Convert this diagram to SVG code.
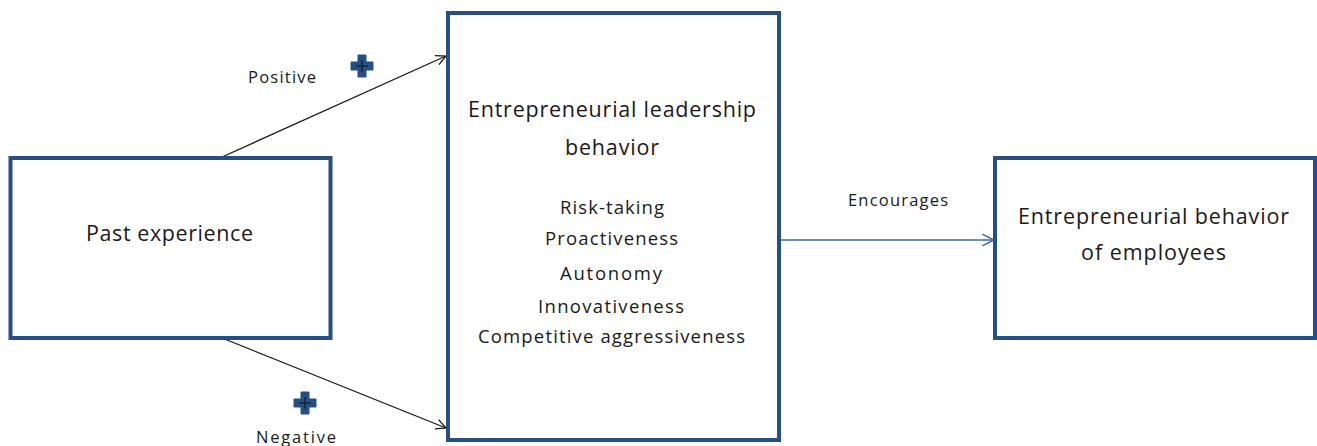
<svg xmlns="http://www.w3.org/2000/svg" width="1317" height="446" viewBox="0 0 1317 446">
  <style>
    .box { fill: #ffffff; stroke: #254f85; stroke-width: 4; }
    .t { font-family: "Open Sans", "Liberation Sans", Arial, sans-serif; fill: #1a1a1a; text-anchor: middle; }
    .big { font-size: 21.5px; }
    .mid { font-size: 18.5px; }
    .small { font-size: 16.5px; }
    .link { stroke: #1a1a1a; stroke-width: 1.3; fill: none; }
    .link-blue { stroke: #3f6aa0; stroke-width: 1.3; fill: none; }
  </style>
  <defs>
    <marker id="open-dark" viewBox="0 0 12 12" refX="11" refY="6" markerWidth="12" markerHeight="12" markerUnits="userSpaceOnUse" orient="auto">
      <path d="M1,1 L11,6 L1,11" fill="none" stroke="#1a1a1a" stroke-width="1.3"/>
    </marker>
    <marker id="open-blue" viewBox="0 0 12 12" refX="11" refY="6" markerWidth="14" markerHeight="14" markerUnits="userSpaceOnUse" orient="auto">
      <path d="M1,1 L11,6 L1,11" fill="none" stroke="#3f6aa0" stroke-width="1.3"/>
    </marker>
    <g id="plus">
      <path d="M-4,-11 H4 V-4 H11 V4 H4 V11 H-4 V4 H-11 V-4 H-4 Z" fill="#254f85" stroke="#254f85" stroke-width="1" stroke-linejoin="round"/>
      <path d="M0,-6 V6 M-6,0 H6" stroke="#111111" stroke-width="1"/>
    </g>
  </defs>

  <g id="connectors">
    <line class="link" x1="222" y1="157" x2="446" y2="56" marker-end="url(#open-dark)"/>
    <line class="link" x1="222" y1="338" x2="446" y2="428" marker-end="url(#open-dark)"/>
    <line class="link-blue" x1="781" y1="240" x2="994" y2="240" marker-end="url(#open-blue)"/>
    <text class="t small" x="282" y="83" textLength="68" lengthAdjust="spacing">Positive</text>
    <use href="#plus" x="362" y="66"/>
    <use href="#plus" x="305" y="403"/>
    <text class="t small" x="296" y="443" textLength="80" lengthAdjust="spacing">Negative</text>
    <text class="t small" x="898" y="206" textLength="100" lengthAdjust="spacing">Encourages</text>
  </g>

  <g id="past-experience">
    <rect class="box" x="10.5" y="158" width="320" height="180"/>
    <text class="t big" x="169.5" y="241" textLength="167" lengthAdjust="spacing">Past experience</text>
  </g>

  <g id="leadership-behavior">
    <rect class="box" x="448" y="13" width="331" height="427"/>
    <text class="t big" x="612" y="117" textLength="288" lengthAdjust="spacing">Entrepreneurial leadership</text>
    <text class="t big" x="612" y="155" textLength="94" lengthAdjust="spacing">behavior</text>
    <text class="t mid" x="612" y="214" textLength="104" lengthAdjust="spacing">Risk-taking</text>
    <text class="t mid" x="611.5" y="245" textLength="133" lengthAdjust="spacing">Proactiveness</text>
    <text class="t mid" x="611" y="280" textLength="102" lengthAdjust="spacing">Autonomy</text>
    <text class="t mid" x="611" y="313" textLength="146" lengthAdjust="spacing">Innovativeness</text>
    <text class="t mid" x="611.5" y="343" textLength="267" lengthAdjust="spacing">Competitive aggressiveness</text>
  </g>

  <g id="employee-behavior">
    <rect class="box" x="995" y="158" width="320" height="180"/>
    <text class="t big" x="1153.5" y="224" textLength="271" lengthAdjust="spacing">Entrepreneurial behavior</text>
    <text class="t big" x="1153.5" y="260" textLength="145" lengthAdjust="spacing">of employees</text>
  </g>
</svg>
